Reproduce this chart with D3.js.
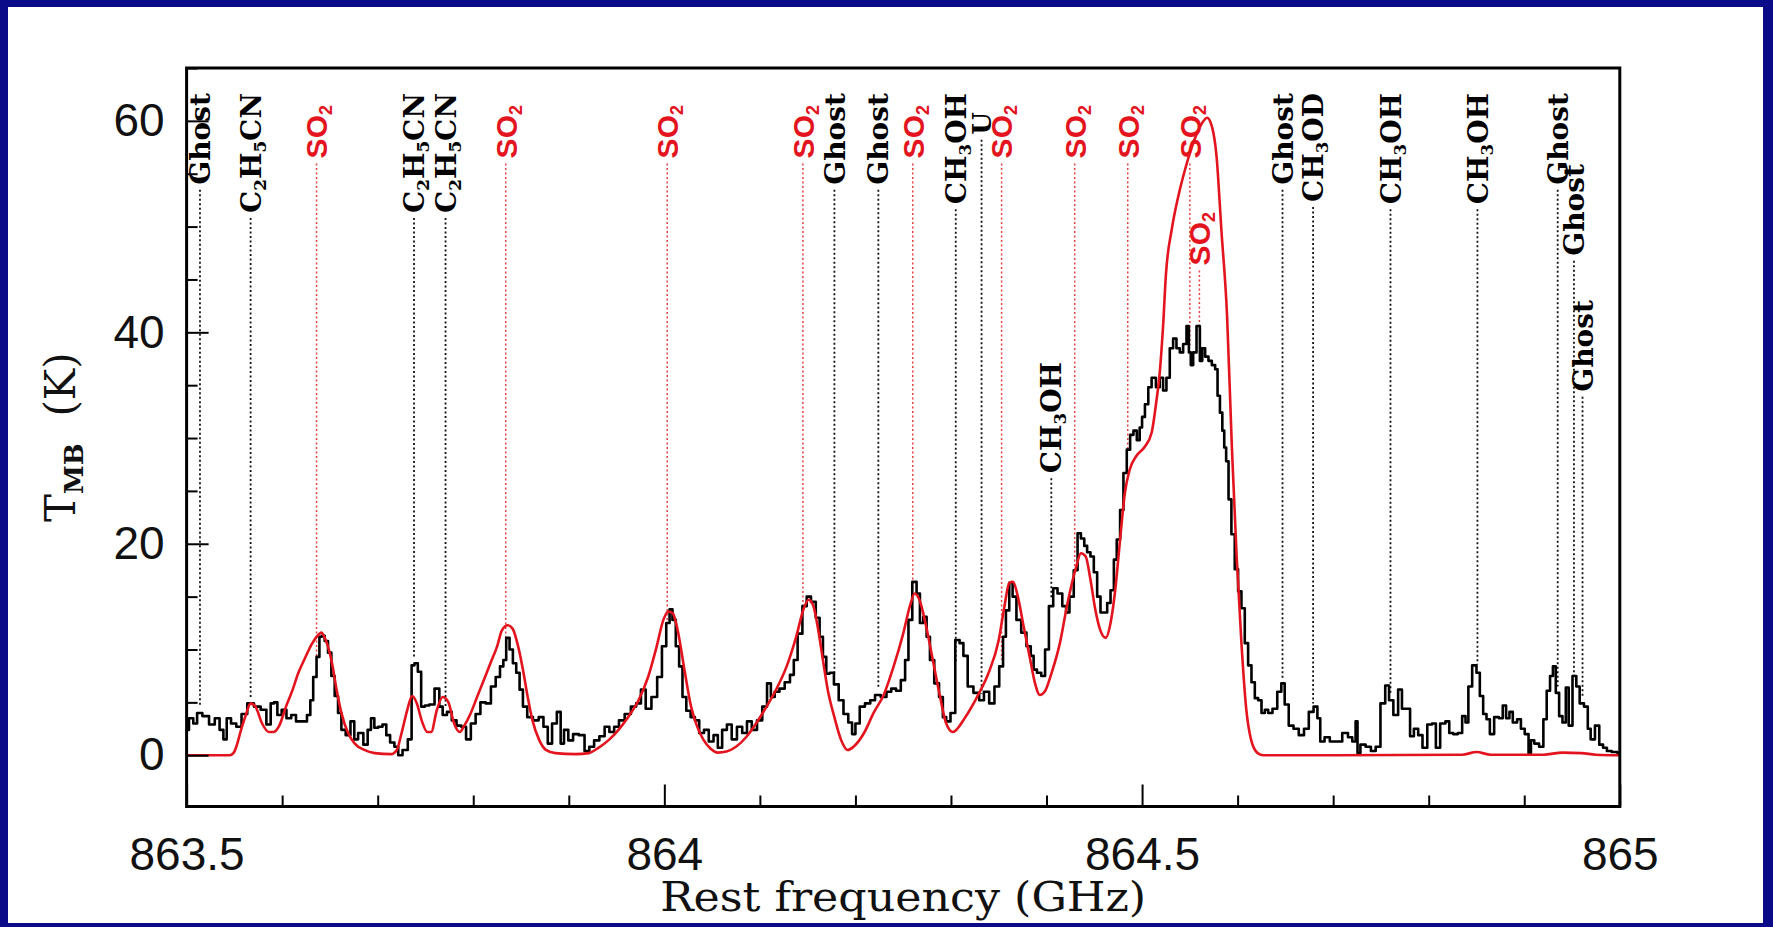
<!DOCTYPE html>
<html><head><meta charset="utf-8">
<script src="https://cdn.jsdelivr.net/npm/d3@7/dist/d3.min.js"></script>
<style>
html,body{margin:0;padding:0;background:#fff;}
svg{display:block;}
</style></head><body>
<svg id="chart" width="1773" height="927"></svg>
<script>
// ---------- DATA ----------
// observed spectrum [rest frequency GHz, T_MB K]
const observed = [
[863.500,2.4],[863.505,3.5],[863.509,3.0],[863.513,4.0],[863.520,3.7],[863.527,2.9],[863.532,3.5],[863.537,2.4],[863.540,1.5],[863.544,3.5],
[863.549,3.0],[863.555,2.7],[863.560,3.9],[863.567,4.9],[863.574,4.6],[863.581,4.3],[863.586,2.9],[863.590,4.9],[863.593,5.0],[863.597,3.8],
[863.602,4.3],[863.607,3.5],[863.612,3.8],[863.617,3.2],[863.624,3.2],[863.628,3.8],[863.631,5.2],[863.634,7.4],[863.638,9.3],[863.640,11.2],
[863.643,11.3],[863.646,10.8],[863.650,9.7],[863.653,7.5],[863.657,5.6],[863.660,4.0],[863.664,2.4],[863.669,1.9],[863.674,3.2],[863.677,1.5],
[863.682,2.1],[863.688,1.0],[863.691,2.4],[863.695,3.5],[863.698,2.6],[863.703,2.7],[863.707,2.9],[863.711,1.9],[863.715,1.2],[863.720,0.8],
[863.723,0.0],[863.729,0.5],[863.734,1.5],[863.737,8.5],[863.740,8.7],[863.744,7.9],[863.747,4.6],[863.752,4.7],[863.756,4.8],[863.763,6.3],
[863.766,4.6],[863.770,3.8],[863.775,4.1],[863.780,3.3],[863.785,2.8],[863.790,2.7],[863.795,1.5],[863.800,3.0],[863.805,3.9],[863.810,5.0],
[863.816,4.9],[863.821,6.5],[863.826,7.4],[863.830,8.4],[863.833,9.0],[863.836,11.1],[863.840,10.0],[863.843,8.7],[863.847,7.8],[863.850,6.2],
[863.854,4.6],[863.859,3.6],[863.866,3.3],[863.871,3.6],[863.876,2.7],[863.880,1.1],[863.885,3.0],[863.890,4.1],[863.893,1.1],[863.897,2.4],
[863.902,1.4],[863.907,2.0],[863.914,1.9],[863.919,0.4],[863.924,0.8],[863.929,1.4],[863.935,1.8],[863.940,2.7],[863.945,2.2],[863.950,2.7],
[863.955,3.3],[863.962,3.9],[863.968,4.6],[863.973,4.9],[863.978,6.2],[863.983,4.4],[863.990,5.5],[863.995,7.4],[864.000,10.3],[864.004,12.5],
[864.007,13.8],[864.010,12.8],[864.014,10.3],[864.017,8.4],[864.021,5.5],[864.025,4.2],[864.030,3.6],[864.034,3.3],[864.039,2.1],[864.044,2.4],
[864.049,1.3],[864.054,1.9],[864.058,0.7],[864.063,2.4],[864.068,2.9],[864.073,1.5],[864.079,2.7],[864.084,2.1],[864.089,3.2],[864.094,2.4],
[864.100,3.3],[864.105,4.6],[864.110,6.8],[864.113,5.5],[864.118,6.0],[864.123,6.3],[864.129,6.9],[864.134,7.6],[864.137,9.0],[864.142,11.5],
[864.147,14.1],[864.151,15.0],[864.156,14.5],[864.161,13.0],[864.164,11.2],[864.168,9.3],[864.171,7.7],[864.175,7.8],[864.180,6.7],[864.185,5.2],
[864.190,3.9],[864.195,3.1],[864.198,2.0],[864.202,3.0],[864.207,4.6],[864.213,4.9],[864.218,5.2],[864.223,5.7],[864.230,5.5],[864.235,6.0],
[864.240,6.3],[864.245,6.1],[864.250,7.1],[864.254,9.0],[864.257,12.8],[864.262,16.4],[864.266,15.3],[864.269,12.5],[864.273,13.1],[864.276,11.2],
[864.280,9.0],[864.285,6.8],[864.290,5.5],[864.293,3.6],[864.297,3.2],[864.302,4.0],[864.307,10.9],[864.311,10.6],[864.315,9.4],[864.320,6.5],
[864.327,5.9],[864.332,5.2],[864.337,6.0],[864.343,4.9],[864.348,6.5],[864.353,8.4],[864.356,11.2],[864.359,13.7],[864.363,16.3],[864.366,15.0],
[864.371,12.8],[864.376,11.6],[864.382,10.3],[864.385,9.4],[864.388,8.1],[864.392,7.8],[864.397,7.5],[864.400,10.0],[864.405,14.1],[864.409,15.8],
[864.414,15.3],[864.419,14.1],[864.422,13.5],[864.426,15.0],[864.431,17.5],[864.434,21.0],[864.438,20.5],[864.441,19.8],[864.444,19.2],[864.448,18.8],
[864.451,17.3],[864.455,15.0],[864.458,13.5],[864.462,13.5],[864.465,14.4],[864.469,15.6],[864.472,18.5],[864.475,20.4],[864.479,23.2],[864.482,26.7],
[864.486,28.9],[864.489,30.3],[864.493,30.7],[864.496,29.8],[864.499,31.0],[864.501,32.0],[864.505,33.2],[864.508,34.8],[864.512,35.7],[864.517,34.8],
[864.520,35.7],[864.524,34.5],[864.527,35.7],[864.531,38.5],[864.534,39.4],[864.538,38.5],[864.541,38.1],[864.545,38.9],[864.548,40.6],[864.550,38.1],
[864.552,36.9],[864.555,38.1],[864.559,40.6],[864.562,37.3],[864.564,38.5],[864.568,37.7],[864.571,37.3],[864.575,36.9],[864.578,36.5],[864.580,34.0],
[864.583,32.4],[864.585,30.7],[864.587,29.1],[864.589,27.8],[864.592,24.2],[864.595,20.9],[864.599,17.6],[864.602,15.5],[864.606,13.9],[864.609,10.6],
[864.613,8.5],[864.616,6.9],[864.620,5.4],[864.623,5.2],[864.627,4.0],[864.630,4.3],[864.634,4.0],[864.639,4.4],[864.644,6.0],[864.6475,6.8],
[864.651,4.8],[864.656,2.8],[864.661,2.5],[864.667,1.9],[864.672,2.5],[864.677,4.1],[864.682,4.6],[864.685,3.5],[864.688,1.3],[864.694,1.7],
[864.699,1.3],[864.706,1.3],[864.713,2.1],[864.718,1.7],[864.722,1.3],[864.725,3.2],[864.726,0.2],[864.731,1.0],[864.737,0.8],[864.742,0.4],
[864.747,0.8],[864.752,4.9],[864.757,6.6],[864.760,5.2],[864.766,3.8],[864.770,6.2],[864.774,4.4],[864.779,4.4],[864.782,1.8],[864.787,2.5],
[864.791,1.9],[864.796,0.7],[864.801,2.9],[864.806,3.0],[864.809,0.7],[864.815,3.0],[864.820,3.2],[864.823,2.1],[864.828,2.0],[864.833,2.1],
[864.837,3.7],[864.840,3.1],[864.843,6.5],[864.848,8.5],[864.852,7.8],[864.855,5.6],[864.859,3.9],[864.862,3.4],[864.866,2.0],[864.871,3.6],
[864.876,3.5],[864.879,4.7],[864.883,3.5],[864.886,4.1],[864.890,3.1],[864.895,3.4],[864.898,2.5],[864.903,2.0],[864.906,0.2],[864.908,1.4],
[864.913,1.1],[864.918,0.8],[864.922,3.4],[864.925,6.1],[864.929,7.5],[864.931,8.4],[864.935,5.9],[864.938,3.7],[864.942,3.1],[864.945,6.4],
[864.948,2.8],[864.953,7.5],[864.956,6.5],[864.960,4.9],[864.965,4.6],[864.968,2.5],[864.971,1.5],[864.977,2.8],[864.980,1.0],[864.985,0.7],
[864.988,0.4],[864.995,0.3],[865.000,0.2]
];

// LTE model spectrum [rest frequency GHz, T_MB K]
const model = [
[863.500,0.0],[863.545,0.0],[863.549,0.2],[863.552,0.8],[863.557,2.4],[863.562,3.8],[863.567,4.9],[863.572,4.6],[863.579,3.0],[863.586,2.2],
[863.591,2.2],[863.597,2.8],[863.604,4.6],[863.611,6.2],[863.617,7.8],[863.624,9.2],[863.631,10.5],[863.638,11.4],[863.641,11.6],[863.646,10.8],
[863.652,8.8],[863.657,6.2],[863.662,4.0],[863.669,2.1],[863.676,1.1],[863.686,0.5],[863.697,0.2],[863.714,0.1],[863.720,0.5],[863.725,2.1],
[863.731,4.3],[863.736,5.6],[863.741,4.9],[863.746,3.3],[863.752,2.2],[863.756,2.2],[863.762,4.3],[863.768,5.5],[863.774,5.0],[863.780,3.0],
[863.786,2.2],[863.790,2.7],[863.797,3.9],[863.804,5.5],[863.811,7.1],[863.818,8.7],[863.825,10.3],[863.830,11.8],[863.836,12.3],[863.841,12.0],
[863.847,10.3],[863.852,8.1],[863.857,5.5],[863.862,3.3],[863.869,1.45],[863.876,0.5],[863.886,0.2],[863.907,0.1],[863.921,0.2],[863.931,0.7],
[863.942,1.45],[863.952,2.4],[863.962,3.6],[863.973,5.2],[863.983,7.4],[863.992,10.3],[863.999,12.8],[864.004,13.6],[864.009,13.4],[864.014,11.8],
[864.021,8.1],[864.028,4.6],[864.034,2.8],[864.041,1.45],[864.048,0.66],[864.056,0.25],[864.065,0.35],[864.075,0.8],[864.086,1.75],[864.096,3.0],
[864.107,4.6],[864.117,6.2],[864.128,8.4],[864.138,11.2],[864.146,13.9],[864.151,14.7],[864.156,14.1],[864.161,11.9],[864.166,9.0],[864.171,6.2],
[864.178,3.6],[864.185,1.45],[864.192,0.5],[864.198,0.8],[864.209,2.1],[864.219,4.0],[864.230,5.8],[864.240,8.4],[864.250,11.5],[864.257,14.1],
[864.262,15.3],[864.267,14.7],[864.274,12.2],[864.281,9.0],[864.288,5.8],[864.295,3.0],[864.302,2.2],[864.315,3.6],[864.329,5.8],[864.339,7.7],
[864.350,10.9],[864.356,14.1],[864.361,16.3],[864.365,16.4],[864.370,15.0],[864.376,12.2],[864.383,9.0],[864.388,6.8],[864.393,5.7],[864.398,6.0],
[864.405,7.7],[864.414,10.6],[864.422,14.4],[864.431,17.8],[864.436,19.1],[864.441,18.8],[864.446,16.6],[864.451,13.8],[864.456,11.9],[864.462,11.1],
[864.467,12.5],[864.472,15.7],[864.477,20.4],[864.482,24.8],[864.487,27.0],[864.494,28.3],[864.503,29.2],[864.510,30.5],[864.515,33.5],[864.518,35.7],
[864.522,40.6],[864.525,45.5],[864.531,49.7],[864.538,52.9],[864.545,55.4],[864.552,57.5],[864.561,59.5],[864.568,60.3],[864.573,59.5],[864.578,56.6],
[864.583,49.7],[864.589,41.5],[864.594,29.1],[864.599,18.8],[864.604,10.6],[864.609,4.4],[864.614,1.5],[864.621,0.2],[864.627,0.0],[864.700,0.0],
[864.835,0.05],[864.850,0.3],[864.865,0.05],[864.920,0.05],[864.940,0.25],[864.960,0.2],[864.975,0.05],[865.000,0.0]
];

// identified lines
const lineFreqs = [863.514,863.567,863.636,863.738,863.771,863.834,864.003,864.145,864.178,864.224,864.260,864.305,864.332,
                   864.353,864.405,864.4295,864.485,864.550,864.560,864.647,864.679,864.760,864.851,864.935,864.952,864.961];
const lineSpecies = ["Ghost","C2H5CN","SO2","C2H5CN","C2H5CN","SO2","SO2","SO2","Ghost","Ghost","SO2","CH3OH","U",
                     "SO2","CH3OH","SO2","SO2","SO2","SO2","Ghost","CH3OD","CH3OH","CH3OH","Ghost","Ghost","Ghost"];

const xTickValues = [863.5, 864, 864.5, 865];
const xTickLabels = ["863.5", "864", "864.5", "865"];
const yTickValues = [0, 20, 40, 60];
const yTickLabels = ["0", "20", "40", "60"];
const xTitle = "Rest frequency (GHz)";

// ---------- DRAWING ----------
const W = 1773, H = 927;
const svg = d3.select("#chart");
const navy = "#0b0b8a";
const redC = "#e3141e";

// frame of the slide
svg.append("rect").attr("x",0).attr("y",0).attr("width",W).attr("height",H).attr("fill",navy);
svg.append("rect").attr("x",8).attr("y",7).attr("width",W-8-10).attr("height",H-7-4).attr("fill","#fff");

const L = 186.6, R = 1619.8, T = 68, B = 806.5;
const x = d3.scaleLinear().domain([863.5, 865]).range([L, R]);
const y = d3.scaleLinear().domain([-4.85, 65]).range([B, T]);

const g = svg.append("g");
g.append("defs").append("clipPath").attr("id","clip")
  .append("rect").attr("x",L).attr("y",T).attr("width",R-L).attr("height",B-T);

function interp(arr, f){
  for (let i=1;i<arr.length;i++){
    if (arr[i][0] >= f){
      const a=arr[i-1], b=arr[i];
      const t=(f-a[0])/(b[0]-a[0]);
      return a[1]+t*(b[1]-a[1]);
    }
  }
  return arr[arr.length-1][1];
}

// line labels
const lowerTop = {12:112, 14:362, 18:212, 24:164, 25:300};
const labG = g.append("g");
lineFreqs.forEach((f,i)=>{
  const sp = lineSpecies[i];
  const isSO2 = sp === "SO2";
  const cx = x(f);
  const top = lowerTop[i] !== undefined ? lowerTop[i] : (isSO2 ? 105 : 93);
  const t = labG.append("text")
    .attr("transform",`translate(${cx},${top}) rotate(-90)`)
    .attr("text-anchor","end")
    .attr("dy", "0.36em")
    .attr("fill", isSO2 ? redC : "#000")
    .attr("font-family", isSO2 ? "Liberation Sans, Arial, sans-serif" : "DejaVu Serif, serif")
    .attr("font-size", isSO2 ? 30 : (sp==="U" ? 26 : 28))
    .attr("font-weight", "bold");
  const parts = sp.split(/(\d+)/).filter(s=>s.length);
  parts.forEach(p=>{
    if (/^\d+$/.test(p)) t.append("tspan").attr("font-size","60%").attr("baseline-shift","-30%").text(p);
    else t.append("tspan").text(p);
  });
  const len = t.node().getComputedTextLength();
  const y0 = top + len + 5;
  const y1 = y(interp(observed, f) + 0.6);
  if (y1 > y0) {
    g.insert("line", ":first-child")
      .attr("x1",cx).attr("x2",cx).attr("y1",y0).attr("y2",y1)
      .attr("stroke", isSO2 ? "#e64040" : "#111")
      .attr("stroke-width", isSO2 ? 1.5 : 1.8)
      .attr("stroke-dasharray","2,2.5");
  }
});

// spectra
const lineObs = d3.line().x(d=>x(d[0])).y(d=>y(d[1])).curve(d3.curveStep);
const lineMod = d3.line().x(d=>x(d[0])).y(d=>y(d[1])).curve(d3.curveMonotoneX);
g.append("path").datum(observed).attr("d",lineObs).attr("fill","none")
  .attr("stroke","#000").attr("stroke-width",2.6).attr("stroke-linejoin","round").attr("clip-path","url(#clip)");
g.append("path").datum(model).attr("d",lineMod).attr("fill","none")
  .attr("stroke",redC).attr("stroke-width",2.6).attr("clip-path","url(#clip)");

// axes (inward ticks)
const xMinor = d3.range(863.6, 865.0, 0.1).filter(v=>!xTickValues.some(m=>Math.abs(m-v)<1e-6));
const yMinor = d3.range(-5, 66, 5).filter(v=>!yTickValues.includes(v) && v>-4.85);
const axG = svg.append("g");
axG.append("g").attr("transform",`translate(0,${B})`)
  .call(d3.axisBottom(x).tickValues(xTickValues).tickSize(-22).tickPadding(31)
        .tickFormat((d,i)=>xTickLabels[i]));
axG.append("g").attr("transform",`translate(0,${B})`)
  .call(d3.axisBottom(x).tickValues(xMinor).tickSize(-11).tickFormat(""));
axG.append("g").attr("transform",`translate(${L},0)`)
  .call(d3.axisLeft(y).tickValues(yTickValues).tickSize(-22).tickPadding(22)
        .tickFormat((d,i)=>yTickLabels[i]));
axG.append("g").attr("transform",`translate(${L},0)`)
  .call(d3.axisLeft(y).tickValues(yMinor).tickSize(-11).tickFormat(""));
axG.selectAll(".domain").remove();
axG.selectAll(".tick line").attr("stroke","#000").attr("stroke-width",2);
axG.selectAll(".tick text").attr("font-family","Liberation Sans, Arial, sans-serif")
  .attr("font-size",46).attr("fill","#111");

// plot frame
svg.append("rect").attr("x",L).attr("y",T).attr("width",R-L).attr("height",B-T)
  .attr("fill","none").attr("stroke","#000").attr("stroke-width",3);

// axis titles
svg.append("text").attr("x",(L+R)/2).attr("y",911).attr("text-anchor","middle")
  .attr("font-family","DejaVu Serif, serif").attr("font-size",41).attr("fill","#111")
  .attr("textLength",486).attr("lengthAdjust","spacingAndGlyphs").text(xTitle);

const yt = svg.append("text").attr("transform",`translate(75,${(T+B)/2}) rotate(-90)`)
  .attr("text-anchor","middle").attr("font-family","DejaVu Serif, serif")
  .attr("font-size",42).attr("fill","#111");
yt.append("tspan").text("T");
yt.append("tspan").attr("font-size","62%").attr("baseline-shift","-30%").attr("font-weight","bold").text("MB");
yt.append("tspan").text("\u00A0\u00A0(K)");
</script>
</body></html>
